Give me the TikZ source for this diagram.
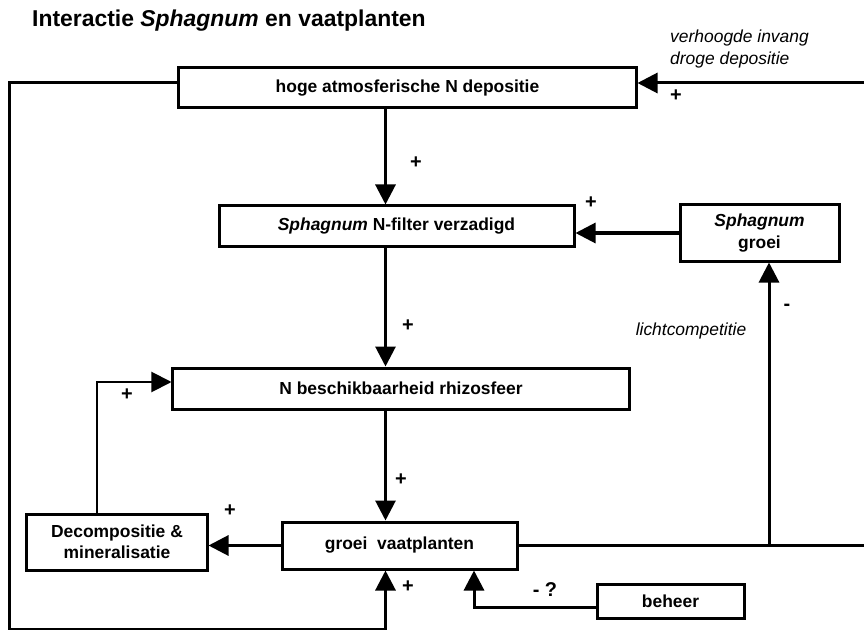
\documentclass[tikz,border=0pt]{standalone}
\usepackage{fontspec}
\setmainfont{Liberation Sans}
\usepackage{tikz}
\usetikzlibrary{arrows.meta,calc}
\newcommand{\tekstmaat}{\fontsize{17.5}{21.5}\selectfont}
\newcommand{\titelmaat}{\fontsize{23}{27}\selectfont}
\newcommand{\tekenmaat}{\fontsize{20}{24}\selectfont}
\tikzset{
    blok/.style={
        rectangle,
        draw,
        line width=3bp,
        align=center,
        inner sep=0pt,
        font=\tekstmaat\bfseries
    },
    pijl/.style={-{Triangle[length=20bp,width=20bp]}, line width=3bp},
    lijn/.style={line width=3bp},
    teken/.style={font=\tekenmaat\bfseries, inner sep=0pt},
    toelichting/.style={font=\tekstmaat\itshape, inner sep=0pt, align=left}
}

\begin{document}
\begin{tikzpicture}[x=1bp, y=-1bp]
    \useasboundingbox (0,0) rectangle (864,630);

    \node[anchor=base west, inner sep=0pt, font=\titelmaat\bfseries] (titel) at (32,27)
        {Interactie \textit{Sphagnum} en vaatplanten};

    \node[blok, minimum width=457bp, minimum height=40bp] (depositie) at (407.5,88)
        {hoge atmosferische N depositie};
    \node[blok, minimum width=355bp, minimum height=40bp] (filter) at (396.5,226)
        {\textit{Sphagnum} N-filter verzadigd};
    \node[blok, minimum width=159bp, minimum height=56bp] (sphgroei) at (759.5,233)
        {\textit{Sphagnum}\\groei};
    \node[blok, minimum width=456bp, minimum height=41bp] (rhizo) at (401,388.5)
        {N beschikbaarheid rhizosfeer};
    \node[blok, minimum width=235bp, minimum height=47bp] (vaat) at (399.5,545.5)
        {groei\ \ vaatplanten};
    \node[blok, minimum width=180bp, minimum height=56bp] (decomp) at (117,542)
        {Decompositie \&\\mineralisatie};
    \node[blok, minimum width=147bp, minimum height=34bp] (beheer) at (670.5,601)
        {beheer};

    \coordinate (invang) at (864,83);
    \coordinate (midden) at (385.5,0);
    \coordinate (hoek) at (9,629);
    \coordinate (uitgang) at (864,545.5);
    \coordinate (licht) at (769,545.5);
    \coordinate (terug) at (97,382);
    \coordinate (ingreep) at (474,607);

    \draw[pijl] (invang) -- (invang -| depositie.east);
    \draw[pijl] (invang -| depositie.west) -| (hoek) -| (midden |- vaat.south);
    \draw[pijl] (midden |- depositie.south) -- (midden |- filter.north);
    \draw[pijl] (sphgroei.west) -- (sphgroei.west -| filter.east);
    \draw[pijl] (midden |- filter.south) -- (midden |- rhizo.north);
    \draw[pijl] (midden |- rhizo.south) -- (midden |- vaat.north);
    \draw[lijn] (vaat.east) -- (uitgang);
    \draw[pijl] (licht) -- (licht |- sphgroei.south);
    \draw[pijl] (vaat.west) -- (vaat.west -| decomp.east);
    \draw[pijl, line width=2bp] (decomp.north -| terug) |- (rhizo.west |- terug);
    \draw[pijl] (beheer.west |- ingreep) -| (ingreep |- vaat.south);

    \node[toelichting, anchor=west] (invangtekst) at (670,49) {verhoogde invang\\droge depositie};
    \node[toelichting] (lichttekst) at (691,331) {lichtcompetitie};

    \node[teken] (plusinvang) at (676,96) {+};
    \node[teken] (plusdepositie) at (416,163) {+};
    \node[teken] (plussphgroei) at (591,203) {+};
    \node[teken] (plusfilter) at (408,326) {+};
    \node[teken] (minlicht) at (787,307) {-};
    \node[teken] (plusdecomp) at (127,395) {+};
    \node[teken] (plusrhizo) at (401,480) {+};
    \node[teken] (plusvaat) at (230,511) {+};
    \node[teken] (plusonder) at (408,587) {+};
    \node[teken] (minbeheer) at (545,590) {- ?};
\end{tikzpicture}
\end{document}
